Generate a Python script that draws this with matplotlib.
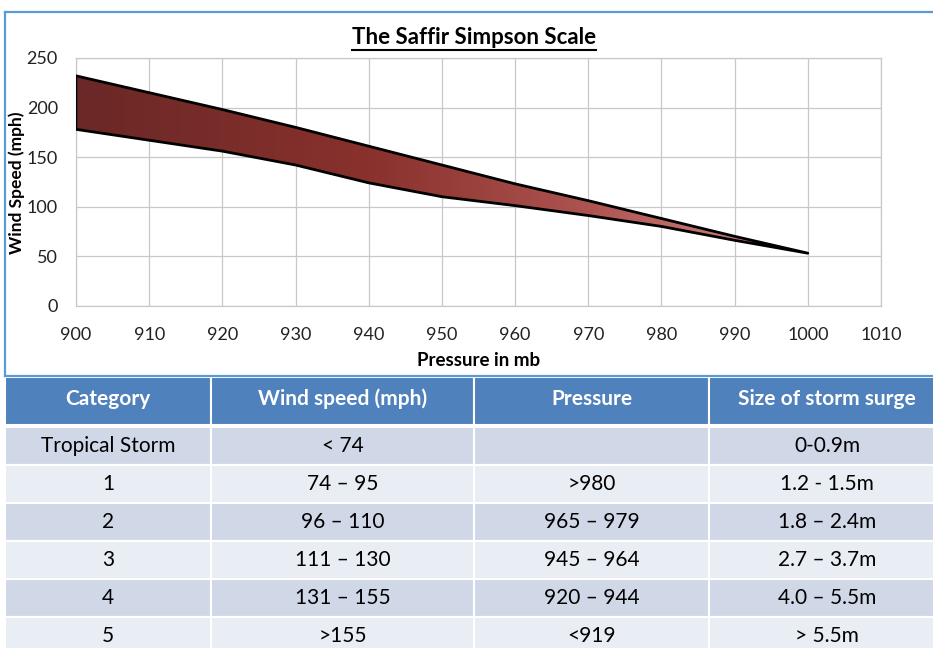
import numpy as np
import matplotlib
matplotlib.use("Agg")
import matplotlib.pyplot as plt
from matplotlib.colors import LinearSegmentedColormap
from matplotlib.lines import Line2D
from matplotlib.patches import Rectangle

plt.rcParams['font.family'] = ['Lato', 'DejaVu Sans']

# данные графика
pressure = [900, 910, 920, 930, 940, 950, 960, 970, 980, 990, 1000]
wind_upper = [232, 215, 198, 180, 161, 142, 123, 106, 88, 70, 53]
wind_lower = [178, 167, 156, 142, 124, 110, 101, 91, 80, 66, 53]

# данные таблицы
headers = ["Category", "Wind speed (mph)", "Pressure", "Size of storm surge"]
categories = ["Tropical Storm", "1", "2", "3", "4", "5"]
wind_ranges = ["< 74", "74 \u2013 95", "96 \u2013 110", "111 \u2013 130", "131 \u2013 155", ">155"]
pressure_ranges = ["", ">980", "965 \u2013 979", "945 \u2013 964", "920 \u2013 944", "<919"]
surge_sizes = ["0-0.9m", "1.2 - 1.5m", "1.8 \u2013 2.4m", "2.7 \u2013 3.7m", "4.0 \u2013 5.5m", "> 5.5m"]

W, H = 933, 648
fig = plt.figure(figsize=(W / 100, H / 100), dpi=100)


def fx(px):
    return px / W


def fy(py):
    return 1 - py / H


# --- график ---
ax = fig.add_axes([fx(76), fy(305.7), fx(881) - fx(76), fy(58) - fy(305.7)])
ax.set_xlim(900, 1010)
ax.set_ylim(0, 250)
ax.set_xticks(range(900, 1011, 10))
ax.set_yticks(range(0, 251, 50))
ax.grid(True, color='#c8c8c8', linewidth=0.9)
ax.set_axisbelow(True)
for s in ax.spines.values():
    s.set_color('#c8c8c8')
    s.set_linewidth(0.9)
ax.tick_params(length=0, labelsize=13, colors='#222222')
ax.tick_params(axis='y', pad=13)
ax.tick_params(axis='x', pad=15)

# градиентная заливка
cmap = LinearSegmentedColormap.from_list(
    'storm', [(0, '#6a2826'), (0.4, '#89312d'), (0.7, '#ad5350'), (1.0, '#d98e8c')])
grad = np.linspace(0, 1, 256).reshape(1, -1)
img = ax.imshow(grad, cmap=cmap, aspect='auto', extent=[900, 1000, 0, 250],
                origin='lower', zorder=2, interpolation='bilinear')
poly = ax.fill_between(pressure, wind_lower, wind_upper, facecolor='none',
                       edgecolor='black', linewidth=2.0, zorder=3)
path = poly.get_paths()[0]
img.set_clip_path(path, transform=ax.transData)

fig.text(fx(17), fy(183), "Wind Speed (mph)", rotation=90, ha='center', va='center',
         fontsize=12.5, fontweight='bold')
fig.text(fx(479), fy(360), "Pressure in mb", ha='center', va='center',
         fontsize=13.5, fontweight='bold')
title = fig.text(fx(474), fy(38), "The Saffir Simpson Scale", ha='center', va='center',
                 fontsize=16, fontweight='bold')

# подчёркивание заголовка
renderer = fig.canvas.get_renderer()
bb = title.get_window_extent(renderer).transformed(fig.transFigure.inverted())
fig.add_artist(Line2D([bb.x0, bb.x1], [bb.y0 - 0.002, bb.y0 - 0.002],
                      transform=fig.transFigure, color='black', linewidth=1.5))

# рамка области диаграммы
border = '#5b9bd5'
fig.add_artist(Line2D([fx(5), fx(5)], [fy(12), fy(376)], transform=fig.transFigure,
                      color=border, linewidth=1.6))
fig.add_artist(Line2D([fx(5), fx(933)], [fy(12), fy(12)], transform=fig.transFigure,
                      color=border, linewidth=1.6))
fig.add_artist(Line2D([fx(5), fx(933)], [fy(376), fy(376)], transform=fig.transFigure,
                      color=border, linewidth=1.6))

# --- таблица ---
tax = fig.add_axes([0, 0, 1, 1])
tax.set_xlim(0, W)
tax.set_ylim(H, 0)
tax.axis('off')

col_edges = [5, 211, 474, 709, 945]
header_top, header_bot = 377, 425
row_top0, row_h = 427, 38

for j, text in enumerate(headers):
    x0, x1 = col_edges[j], col_edges[j + 1]
    tax.add_patch(Rectangle((x0, header_top), x1 - x0, header_bot - header_top,
                            facecolor='#4f81bd', edgecolor='white', linewidth=1.5))
    tax.text((x0 + x1) / 2, (header_top + header_bot) / 2 - 2, text, ha='center',
             va='center', color='white', fontsize=15, fontweight='bold')

columns = [categories, wind_ranges, pressure_ranges, surge_sizes]
for i in range(len(categories)):
    y0 = row_top0 + i * row_h
    fc = '#d0d8e8' if i % 2 == 0 else '#e9edf4'
    for j, col in enumerate(columns):
        x0, x1 = col_edges[j], col_edges[j + 1]
        tax.add_patch(Rectangle((x0, y0), x1 - x0, row_h, facecolor=fc,
                                edgecolor='white', linewidth=1.5))
        tax.text((x0 + x1) / 2, y0 + row_h / 2 + 0.5, col[i], ha='center', va='center',
                 color='black', fontsize=15)

fig.savefig('out.png', dpi=100)
